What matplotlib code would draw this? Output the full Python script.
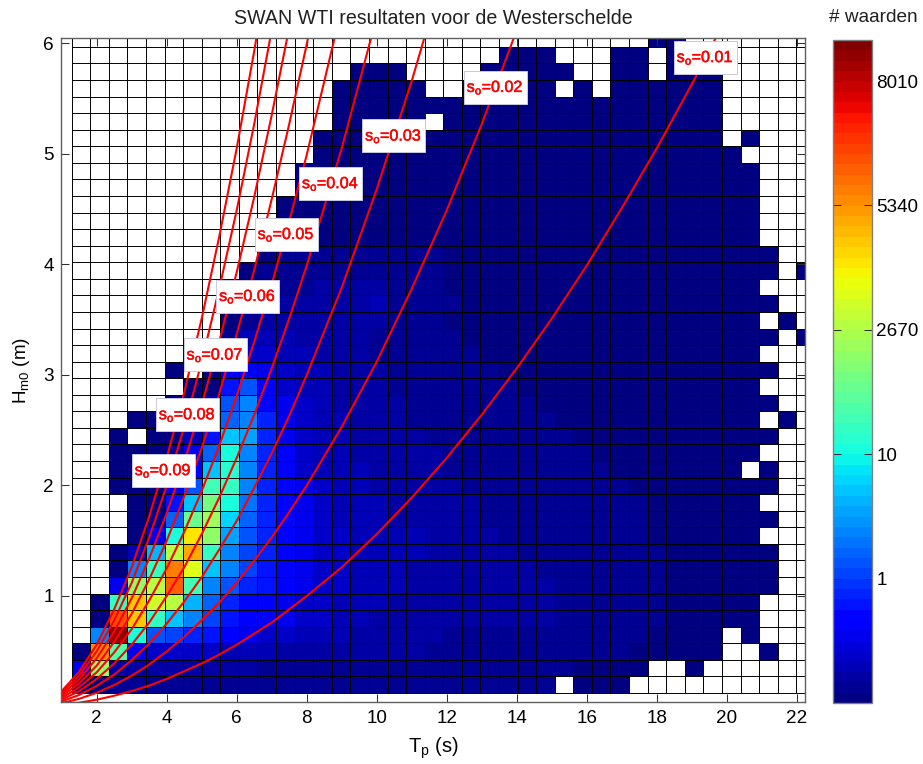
import numpy as np
import matplotlib
matplotlib.use('Agg')
import matplotlib.pyplot as plt
import matplotlib.patheffects as pe
from matplotlib.patches import Rectangle

plt.rcParams['font.family'] = ['Liberation Sans', 'DejaVu Sans']
plt.rcParams['mathtext.fontset'] = 'custom'
plt.rcParams['mathtext.rm'] = 'Liberation Sans'
plt.rcParams['mathtext.default'] = 'rm'

_ = np.nan
# colour-scale value of each cell, in tenths; rows go from low to high Hm0, _ = no data
z_rows = [
 [0,0,1,1,1,1,1,1,1,1, 1,1,1,1,1,1,1,1,1,1, 1,1,1,1,1,1,_,0,0,0, _,_,_,_,_,_,_,_,_,_],
 [5,28,2,2,2,2,2,2,2,2, 1,1,1,1,1,1,1,1,1,1, 1,1,1,1,1,1,1,0,0,0, 0,_,_,0,_,_,_,_,_,_],
 [0,40,24,5,4,4,4,4,3,3, 3,2,2,2,2,2,2,2,2,1, 1,1,1,1,1,1,1,1,1,1, 0,0,0,0,0,_,_,0,_,_],
 [_,14,52,20,11,10,9,8,6,5, 4,4,3,3,3,2,2,2,2,2, 1,1,1,1,1,1,1,1,1,1, 1,0,0,0,0,_,0,_,_,_],
 [_,0,44,37,22,17,14,10,8,6, 6,5,4,4,3,3,2,2,2,2, 2,2,2,2,2,2,1,1,1,1, 1,1,0,0,0,0,0,_,_,_],
 [_,0,22,37,32,30,16,12,9,7, 6,5,4,4,3,3,3,2,2,2, 2,2,2,2,2,2,1,1,1,1, 1,1,0,0,0,0,0,_,_,_],
 [_,_,5,28,30,43,23,14,11,9, 8,6,5,4,4,3,3,3,2,2, 2,2,2,2,2,2,1,1,1,1, 1,1,0,0,0,0,0,0,_,_],
 [_,_,0,14,22,41,33,17,14,10, 8,6,5,4,4,3,3,3,2,2, 2,2,2,2,2,1,1,1,1,1, 1,1,0,0,0,0,0,0,_,_],
 [_,_,0,3,16,30,39,22,14,10, 9,6,5,4,4,3,3,3,3,2, 2,2,2,2,1,1,1,1,1,1, 1,1,0,0,0,0,0,0,_,_],
 [_,_,_,0,5,20,35,28,15,11, 9,7,5,4,4,3,3,3,3,2, 2,2,2,1,1,1,1,1,1,1, 1,0,0,0,0,0,0,_,_,_],
 [_,_,_,0,1,12,25,29,18,12, 9,7,5,4,3,3,3,2,2,2, 2,2,1,1,1,1,1,1,1,1, 1,0,0,0,0,0,0,0,_,_],
 [_,_,_,0,0,8,17,26,20,13, 9,7,5,4,3,3,3,2,2,2, 2,2,1,1,1,1,1,1,1,1, 1,0,0,0,0,0,0,_,_,_],
 [_,_,0,0,0,5,11,23,22,14, 9,7,5,4,3,3,2,2,2,2, 2,1,1,1,1,1,1,1,1,1, 0,0,0,0,0,0,0,0,_,_],
 [_,_,0,0,0,3,6,17,21,14, 9,6,4,3,3,3,2,2,2,2, 1,1,1,1,1,1,1,1,1,0, 0,0,0,0,0,0,_,0,_,_],
 [_,_,0,0,0,1,5,12,20,14, 9,6,4,3,3,2,2,2,2,2, 1,1,1,1,1,1,1,1,0,0, 0,0,0,0,0,0,0,_,_,_],
 [_,_,0,_,0,0,3,8,17,15, 9,5,4,3,3,2,2,2,2,1, 1,1,1,1,1,1,1,0,0,0, 0,0,0,0,0,0,0,0,_,_],
 [_,_,_,0,0,0,2,5,12,14, 9,5,4,3,3,2,2,2,1,1, 1,1,1,1,1,1,0,0,0,0, 0,0,0,0,0,0,0,_,0,_],
 [_,_,_,_,_,0,0,3,11,14, 7,5,4,3,2,2,2,2,1,1, 1,1,1,1,1,0,0,0,0,0, 0,0,0,0,0,0,0,0,_,_],
 [_,_,_,_,_,_,0,0,8,11, 6,4,3,3,2,2,2,1,1,1, 1,1,1,1,0,0,0,0,0,0, 0,0,0,0,0,0,0,_,_,_],
 [_,_,_,_,_,0,_,0,5,6, 5,4,3,3,2,2,2,1,1,1, 1,1,1,0,0,0,0,0,0,0, 0,0,0,0,0,0,0,0,_,_],
 [_,_,_,_,_,_,_,_,1,4, 4,3,3,2,2,2,1,1,1,1, 1,1,0,0,0,0,0,0,0,0, 0,0,0,0,0,0,0,_,_,_],
 [_,_,_,_,_,_,_,_,1,3, 3,3,2,2,2,2,1,1,1,1, 1,0,0,0,0,0,0,0,0,0, 0,0,0,0,0,0,0,0,_,0],
 [_,_,_,_,_,_,_,_,0,1, 2,2,2,2,2,2,2,1,1,1, 0,0,0,0,0,0,0,0,0,0, 0,0,0,0,0,0,0,_,0,_],
 [_,_,_,_,_,_,_,_,_,1, 1,2,2,2,2,2,3,1,1,1, 1,0,0,0,0,0,0,0,0,0, 0,0,0,0,0,0,0,0,_,_],
 [_,_,_,_,_,_,_,_,_,0, 1,1,1,2,2,2,2,1,1,1, 0,0,0,0,0,0,0,0,0,0, 0,0,0,0,0,0,0,_,_,_],
 [_,_,_,_,_,_,_,_,_,0, 1,1,1,1,1,1,1,1,1,1, 0,0,0,0,0,0,0,0,0,0, 0,0,0,0,0,0,0,0,_,0],
 [_,_,_,_,_,_,_,_,_,_, 0,1,1,1,1,1,1,1,1,1, 0,0,0,0,0,0,0,0,0,0, 0,0,0,0,0,0,0,0,_,_],
 [_]*11 + [0]*26 + [_]*3,
 [_]*11 + [0]*26 + [_]*3,
 [_]*11 + [0]*26 + [_]*3,
 [_]*12 + [0]*25 + [_]*3,
 [_]*12 + [0]*25 + [_]*3,
 [_]*13 + [0]*23 + [_]*4,
 [_]*13 + [0]*22 + [_] + [0] + [_]*3,
 [_]*14 + [0]*5 + [_] + [0]*15 + [_]*5,
 [_]*14 + [0]*21 + [_]*5,
 [_]*14 + [0]*5 + [_]*2 + [0]*5 + [_] + [0] + [_] + [0]*6 + [_]*5,
 [_]*15 + [0]*3 + [_]*4 + [0]*5 + [_]*2 + [0]*2 + [_] + [0]*3 + [_]*5,
 [_]*23 + [0]*3 + [_]*3 + [0]*2 + [_] + [0]*2 + [_]*6,
 [_]*31 + [0]*2 + [_]*7,
]

colourbar_ticks = [1, 2, 3, 4, 5]
colourbar_labels = ['1', '10', '2670', '5340', '8010']
x_ticks = [2, 4, 6, 8, 10, 12, 14, 16, 18, 20, 22]
y_ticks = [1, 2, 3, 4, 5, 6]

# steepness curves
curve_tp = [1, 1.5, 2, 2.5, 3, 3.5, 4, 4.5, 5, 5.5, 6, 6.5, 7, 7.5, 8, 9, 10, 11, 12, 13, 14, 15, 16, 17, 18, 19, 20]
curve_s01 = [.016,.035,.062,.098,.14,.19,.25,.32,.39,.47,.56,.66,.76,.88,1.0,1.26,1.56,1.89,2.25,2.64,3.06,3.51,3.99,4.51,5.05,5.63,6.24]
curve_s02 = [.031,.07,.125,.195,.28,.38,.5,.63,.78,.94,1.12,1.32,1.53,1.76,2.0,2.53,3.12,3.78,4.49,5.27,6.12]
curve_s03 = [.047,.105,.187,.29,.42,.57,.75,.95,1.17,1.42,1.68,1.98,2.29,2.63,3.0,3.79,4.68,5.66,6.74]
curve_s04 = [.062,.14,.25,.39,.56,.76,1.0,1.26,1.56,1.89,2.25,2.64,3.06,3.51,3.99,5.05,6.24]
curve_s05 = [.078,.175,.31,.49,.70,.96,1.25,1.58,1.95,2.36,2.81,3.30,3.82,4.39,4.99,6.32]
curve_s06 = [.094,.21,.37,.585,.84,1.15,1.5,1.90,2.34,2.83,3.37,3.95,4.59,5.27,5.99,7.58]
curve_s07 = [.109,.246,.437,.68,.98,1.34,1.75,2.21,2.73,3.30,3.93,4.61,5.35,6.14]
curve_s08 = [.125,.28,.5,.78,1.12,1.53,2.0,2.53,3.12,3.78,4.49,5.27,6.12]
curve_s09 = [.14,.316,.56,.88,1.26,1.72,2.25,2.84,3.51,4.25,5.05,5.93,6.88]
curves = [curve_s01, curve_s02, curve_s03, curve_s04, curve_s05, curve_s06, curve_s07, curve_s08, curve_s09]

label_names = ['0.01', '0.02', '0.03', '0.04', '0.05', '0.06', '0.07', '0.08', '0.09']
label_tp = [19.38, 13.38, 10.48, 8.68, 7.41, 6.31, 5.38, 4.59, 3.90]
label_hm0 = [5.87, 5.60, 5.16, 4.73, 4.27, 3.71, 3.18, 2.64, 2.135]

W, H = 923, 764
fig = plt.figure(figsize=(W/100, H/100), dpi=100)
ax = fig.add_axes([61/W, 1-701.7/H, (805-61)/W, (701.7-38.3)/H])
cax = fig.add_axes([833.3/W, 1-703/H, (872-833.3)/W, (703-40)/H])

tp_edges = np.r_[np.linspace(1.286, 21.98, 40), 22.23]
hm_edges = np.r_[np.linspace(0.123, 5.965, 40), 6.043]
Z = np.array(z_rows, dtype=float) / 10.0

cmap = plt.get_cmap('jet', 64).copy()
cmap.set_bad('white')
mesh = ax.pcolormesh(tp_edges, hm_edges, Z, cmap=cmap, vmin=0, vmax=5.33, zorder=1)

ax.vlines(tp_edges[:-1], hm_edges[0], hm_edges[-1], colors='black', lw=0.7, zorder=2)
ax.hlines(hm_edges[:-1], tp_edges[0], tp_edges[-1], colors='black', lw=0.7, zorder=2)

for c in curves:
    ax.plot(curve_tp[:len(c)], c, color='#ff0000', lw=1.5, zorder=3)

box_w, box_h = 63/35, 33/110.6
for name, t, h in zip(label_names, label_tp, label_hm0):
    ax.add_patch(Rectangle((t-box_w/2, h-box_h/2), box_w, box_h, facecolor='white',
                           edgecolor='#c8c8e0', lw=0.7, zorder=4))
    ax.text(t, h, 's$_{\\mathrm{o}}$=' + name, color='#ff0000', fontsize=11.6, ha='center',
            va='center', zorder=5,
            path_effects=[pe.withStroke(linewidth=0.35, foreground='#ff0000')])

ax.set_xlim(0.98, 22.23)
ax.set_ylim(0.044, 6.043)
ax.set_xticks(x_ticks)
ax.set_yticks(y_ticks)
ax.tick_params(direction='in', length=5.8, width=0.75, color='#303030', top=True, right=True,
               labelsize=13.6)
ax.tick_params(axis='x', pad=6)
ax.tick_params(axis='y', pad=5)
for s in ax.spines.values():
    s.set_color('#606060')
    s.set_linewidth(1.0)
    s.set_zorder(6)

ax.set_title('SWAN WTI resultaten voor de Westerschelde', fontsize=14.1, pad=10.5, color='#202020')
ax.set_xlabel('T$_{\\mathrm{p}}$ (s)', fontsize=14.5, labelpad=6)
ax.set_ylabel('H$_{\\mathrm{m0}}$ (m)', fontsize=13.6, labelpad=8)

cb = fig.colorbar(mesh, cax=cax)
cb.set_ticks(colourbar_ticks)
cb.set_ticklabels(colourbar_labels)
cax.tick_params(direction='in', length=5.8, width=0.75, left=True, right=True,
                labelsize=13.6, color='#303030', pad=3)
cax.minorticks_off()
cb.outline.set_edgecolor('#808080')
cb.outline.set_linewidth(1.0)
fig.text(873/W, 1-17/H, '# waarden', fontsize=13.7, ha='center', va='center', color='#202020')

fig.savefig('out.png', dpi=100)
